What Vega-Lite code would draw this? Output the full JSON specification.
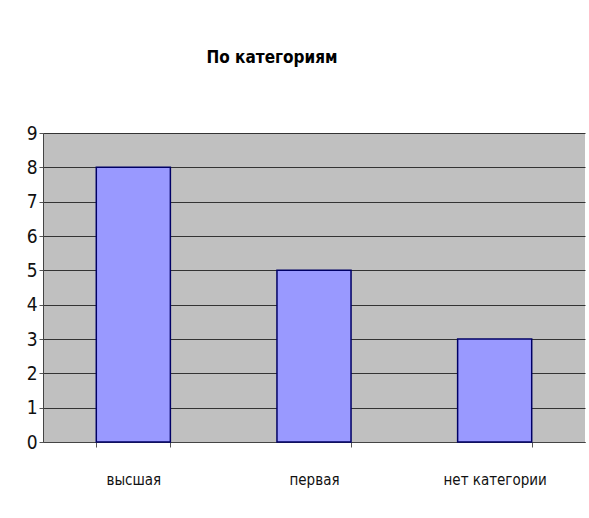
{
  "$schema": "https://vega.github.io/schema/vega-lite/v6.json",
  "autosize": {"type": "none"},
  "width": 542,
  "height": 309,
  "padding": {"left": 43, "top": 133, "right": 4, "bottom": 76},
  "background": "white",
  "title": {
    "text": "По категориям",
    "font": "DejaVu Sans Condensed, sans-serif",
    "fontSize": 17,
    "fontWeight": "bold",
    "color": "black",
    "anchor": "middle",
    "dx": -42,
    "offset": 57
  },
  "data": {
    "values": [
      {"категория": "высшая", "число": 8},
      {"категория": "первая", "число": 5},
      {"категория": "нет категории", "число": 3}
    ]
  },
  "mark": {"type": "bar", "color": "#9999FF", "stroke": "#000066", "strokeWidth": 1.5},
  "encoding": {
    "x": {
      "field": "категория",
      "type": "nominal",
      "sort": null,
      "scale": {"paddingInner": 0.59, "paddingOuter": 0.295},
      "axis": {
        "title": null,
        "labelAngle": 0,
        "labelFont": "DejaVu Sans Condensed, sans-serif",
        "labelFontSize": 15,
        "labelColor": "#111",
        "labelPadding": 25,
        "tickBand": "extent",
        "tickSize": 5,
        "tickColor": "#555",
        "domainColor": "#444",
        "grid": false
      }
    },
    "y": {
      "field": "число",
      "type": "quantitative",
      "scale": {"domain": [0, 9], "nice": false},
      "axis": {
        "title": null,
        "values": [0, 1, 2, 3, 4, 5, 6, 7, 8, 9],
        "labelFont": "DejaVu Sans Condensed, sans-serif",
        "labelFontSize": 19,
        "labelColor": "#111",
        "labelPadding": 2,
        "tickSize": 4,
        "tickColor": "#555",
        "domainColor": "#444",
        "gridColor": "#333",
        "gridOpacity": 1,
        "gridWidth": 1
      }
    }
  },
  "config": {
    "view": {"fill": "#C0C0C0", "stroke": null}
  }
}
